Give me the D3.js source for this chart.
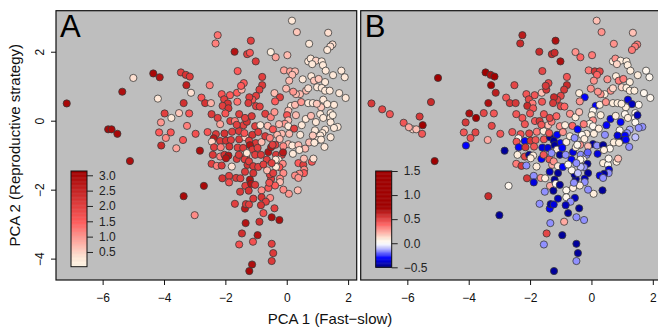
<!DOCTYPE html>
<html>
<head>
<meta charset="utf-8">
<script src="https://cdnjs.cloudflare.com/ajax/libs/d3/7.8.5/d3.min.js"></script>
<style>
  html, body { margin: 0; padding: 0; background: #fff; }
  svg { display: block; font-family: "Liberation Sans", Arial, Helvetica, sans-serif; }
</style>
</head>
<body>
<svg id="chart" width="658" height="329"></svg>
<script>
// PCA scores per species (shared by both panels)
const pc1 = [
  -7.17, -5.82, -5.71, -5.52, -5.36, -5.11, -5.00, -6.82, -6.57, -6.12,
  -5.95, -5.60, -5.50, -5.23, -4.35, -4.14, -3.45, -3.29, -3.16, -3.27,
  -2.51, -3.12, -4.20, -3.36, -3.98, -3.51, -3.76, -3.18, -4.10, -3.25,
  -4.16, -3.78, -3.94, -4.09, -3.60, -3.38, -2.97, -2.83, -2.78, -2.66,
  -2.47, -2.70, -3.36, -3.00, -2.12, -1.85, -1.60, -1.62, -1.47, -1.40,
  -1.49, -2.04, -1.92, -2.09, -1.90, -1.61, -2.25, -2.45, -2.00, -1.55,
  -2.17, -1.84, -1.69, -2.58, -2.31, -2.03, -1.78, -1.56, -1.41, -1.30,
  -2.38, -2.44, -2.17, -1.98, -1.82, -1.55, -1.35, -2.37, -2.15, -1.87,
  -1.60, -2.41, -2.17, -2.03, -1.90, -1.98, -1.63, -1.33, -2.45, -2.28,
  -2.12, -1.79, -1.37, -1.28, -2.10, -1.88, -1.88, -1.65, -1.51, -1.36,
  -1.52, -1.35, -1.24, -1.69, -1.36, -1.33, -1.23, -1.34, -1.46, -1.55,
  -1.10, -1.13, -1.22, 0.17, 0.33, 1.35, 0.73, 1.49, 1.42, 1.32,
  -1.17, -1.29, -1.20, -1.01, -0.52, -0.36, 0.02, 0.70, 0.78, 0.95,
  1.14, 1.18, 1.27, 0.83, -0.09, 0.11, 0.27, 0.18, 0.08, -0.80,
  0.52, 0.80, 0.89, 1.04, 1.25, 1.51, 1.78, 1.89, 1.71, 1.92,
  1.54, 0.99, 1.14, 1.25, 1.40, 1.19, 1.32, 1.12, 0.63, 0.70,
  0.43, 0.30, 0.21, -0.02, -0.40, -0.22, -0.38, -0.80, -0.89, -1.00,
  -1.12, -1.22, -1.25, -1.00, -0.88, 0.14, 0.27, 0.47, 0.70, 0.85,
  0.98, 0.05, 0.01, 0.05, -0.06, 0.05, 0.30, 0.49, 0.62, 0.79,
  0.95, 1.09, 1.19, 1.43, 1.42, 1.43, 1.50, 1.66, 1.54, 1.25,
  1.16, 1.09, 1.01, 1.12, 1.43, 1.23, 0.92, 0.85, 0.73, 0.90,
  0.60, 0.44, 0.24, 0.08, 0.05, 0.18, 0.38, 0.20, 0.38, 0.54,
  0.57, 0.56, 0.41, 0.27, 0.38, 0.36, 0.56, -0.16, -0.31, -0.23,
  -0.11, -0.37, -0.35, -0.16, -0.12, -0.27, -0.13, -0.24, -0.35, -0.11,
  -0.22, 0.07, -0.22, -0.38, -0.11, -0.51, -0.55, -0.64, -0.44, -0.60,
  -0.82, -0.54, -1.09, 0.82, 0.87, 0.41, -1.36, -1.14, -1.63, -1.03,
  -0.86, -1.38, -1.12, -0.93, -1.23, -1.01, -0.82, -1.42, -1.20, -1.12,
  -0.95, -1.30, -1.56, -1.03, -0.84, -0.60, -0.51, -0.46, -0.65, -0.36,
  -0.49, -1.23, -1.09, -0.93, -0.76, -1.09, -1.20, -1.16, -1.03, -0.82,
  -0.68, -0.84, -0.76, -0.40, -0.49, -0.24, -0.89, -0.95, -0.49, -0.44,
  -0.49, -0.57, -2.25, -2.32, -1.70, -0.70, -0.52, -0.40, -0.62, -0.45,
  -0.25, -0.70, -0.55
];
const pc2 = [
  0.50, -0.25, -0.25, -0.38, 0.84, -1.17, 1.24, 0.33, 0.19, -0.06,
  -0.19, 0.12, -0.13, 0.54, 1.37, 1.26, 1.40, 1.33, 1.28, 1.03,
  1.03, 0.81, 0.64, 0.51, 0.21, 0.22, 0.08, 0.21, -0.05, -0.15,
  -0.34, -0.34, -0.50, -0.72, -0.80, -0.56, -0.38, -0.87, 0.67, 0.51,
  0.51, -1.89, -2.19, -2.74, 0.77, 0.74, 1.44, 0.81, 0.90, 1.09,
  1.01, 0.62, 0.50, 0.43, 0.36, 0.55, 0.08, 0.19, 0.21, 0.19,
  -0.10, -0.01, -0.01, -0.33, -0.39, -0.37, -0.32, -0.30, -0.13, -0.03,
  -0.51, -0.61, -0.59, -0.58, -0.56, -0.54, -0.48, -0.77, -0.77, -0.75,
  -0.78, -0.99, -1.04, -0.99, -1.01, -1.09, -1.11, -1.04, -1.25, -1.31,
  -1.30, -1.33, -1.12, -1.28, -1.67, -1.60, -1.79, -1.66, -1.67, -1.48,
  -2.06, -1.89, -2.03, -2.41, -2.55, -2.42, -2.43, -2.97, -3.27, -3.59,
  -3.51, -4.17, -4.36, 2.90, 2.57, 2.55, 2.23, 2.21, 2.15, 2.05,
  2.32, 1.93, 1.97, 1.72, 1.99, 1.84, 1.90, 1.72, 1.80, 1.74,
  1.72, 1.61, 1.45, 1.64, 1.46, 1.43, 1.43, 1.33, 1.16, 1.27,
  1.20, 1.29, 1.16, 1.21, 1.12, 1.32, 1.45, 1.26, 0.80, 0.66,
  0.46, 0.97, 0.95, 0.87, 0.87, 0.61, 0.48, 0.39, 0.87, 0.94,
  0.77, 0.77, 0.84, 0.93, 0.80, 0.68, 0.56, 1.03, 0.90, 0.72,
  0.61, 0.68, 0.51, 0.42, 0.41, 0.43, 0.46, 0.54, 0.51, 0.51,
  0.49, 0.29, 0.16, 0.01, -0.09, -0.16, 0.16, -0.13, 0.05, 0.14,
  -0.04, 0.19, 0.08, 0.22, 0.08, -0.05, 0.16, -0.18, -0.21, -0.26,
  -0.36, -0.43, -0.56, -0.55, -0.48, -0.76, -0.28, -0.43, -0.63, -0.64,
  -0.81, -0.41, -0.23, -0.38, -0.68, -0.72, -0.71, -0.96, -1.23, -1.28,
  -1.42, -1.52, -1.54, -1.59, -1.66, -2.02, -1.10, -0.38, -0.41, -0.53,
  -0.74, -0.70, -0.99, -0.99, -0.92, -1.13, -1.25, -1.35, -1.34, -1.52,
  -1.68, -2.12, -1.78, -1.88, -2.00, -1.69, -1.56, -1.44, -1.52, -1.95,
  -2.02, -2.24, -2.26, -1.19, -1.10, -0.85, 0.08, 0.13, -0.12, -0.16,
  -0.13, -0.36, -0.41, -0.33, -0.58, -0.65, -0.62, -0.79, -0.71, -0.84,
  -0.79, -0.94, -0.99, -0.99, -0.99, -0.91, -0.77, -0.70, -1.13, -1.13,
  -1.23, -1.18, -1.32, -1.34, -1.27, -1.52, -1.71, -1.83, -1.86, -2.22,
  -2.35, -2.45, -2.68, -2.54, -2.80, -2.88, -2.93, -3.32, -3.57, -3.84,
  -4.07, -1.80, 2.48, 2.24, 2.00, 0.20, 0.10, 0.25, -0.15, -0.25,
  -0.10, -0.45, -0.50
];
// panel A colour variable (null = species not shown)
const traitA = [
  3.0, 3.0, 3.0, 3.0, 2.9, 2.9, 0.4, null, null, null,
  null, null, null, null, 3.0, 2.8, 2.0, 2.2, 2.1, 2.6,
  1.2, 0.4, 0.3, 2.3, 2.0, 0.6, 0.3, 1.6, 1.0, 1.2,
  1.5, 1.6, 1.1, 2.4, 0.9, 1.6, 1.7, 2.9, 1.6, 2.2,
  0.8, 3.0, 3.0, 1.1, 1.6, 1.5, 1.5, 1.5, 0.8, 1.5,
  1.5, 2.0, 2.2, 2.0, 2.2, 1.3, 2.0, 2.1, 1.6, 2.0,
  0.9, 2.0, 1.2, 1.6, 2.1, 2.2, 2.0, 2.1, 2.0, 2.2,
  2.7, 0.5, 2.1, 2.2, 2.0, 2.1, 0.5, 2.0, 1.2, 2.2,
  2.0, 2.1, 1.2, 2.2, 2.8, 2.8, 2.1, 2.0, 2.0, 1.2,
  2.1, 0.4, 2.0, 2.2, 2.2, 2.0, 1.7, 2.1, 2.0, 2.1,
  2.1, 2.0, 2.2, 2.0, 2.7, 2.1, 2.0, 2.8, 2.3, 1.7,
  1.7, 2.9, 3.0, 0.3, 0.6, 0.4, 0.3, 0.4, 0.4, 0.3,
  2.0, 2.0, 1.6, 2.1, 0.2, 0.9, 0.7, 0.3, 0.3, 0.5,
  0.3, 0.3, 0.3, 0.3, 0.9, 0.9, 0.7, 0.7, 0.7, 2.0,
  0.3, 0.3, 0.6, 0.6, 0.3, 0.3, 0.3, 0.3, 0.3, 0.3,
  0.3, 0.3, 0.3, 0.3, 0.3, 0.3, 0.3, 0.6, 0.7, 0.4,
  0.7, 0.7, 1.0, 0.7, 0.7, 2.0, 1.5, 2.1, 2.0, 2.0,
  1.6, 2.0, 2.1, 2.0, 2.0, 0.3, 0.7, 1.0, 0.3, 0.3,
  0.6, 0.7, 1.6, 0.7, 1.0, 0.3, 0.7, 0.3, 0.3, 0.7,
  0.3, 0.3, 0.3, 0.3, 0.3, 0.3, 0.2, 0.3, 0.3, 0.3,
  0.3, 0.3, 0.3, 0.3, 0.3, 0.3, 0.3, 0.6, 0.7, 0.3,
  0.7, 0.3, 2.0, 0.7, 0.7, 0.3, 0.7, 0.3, 1.5, 2.0,
  1.1, 1.5, 1.1, 1.1, 1.0, 0.7, 0.7, 0.7, 0.7, 0.7,
  1.1, 2.0, 2.1, 2.0, 2.7, 0.3, 1.1, 1.6, 0.3, 1.1,
  1.1, 1.0, 0.7, 1.5, 1.1, 2.0, 2.0, 0.7, 2.0, 1.6,
  1.1, 1.1, 2.1, 1.6, 0.4, 0.3, 2.0, 2.1, 2.0, 2.0,
  0.3, 1.6, 2.2, 2.0, 2.0, 2.1, 0.7, 2.1, 2.8, 2.1,
  2.0, 0.3, 2.1, 2.0, 2.1, 2.8, 2.8, 2.0, 2.0, 0.3,
  2.0, 2.0, 2.1, 2.0, 2.0, 2.2, 2.8, 2.8, 2.1, 2.2,
  2.0, 2.2, 1.7, 2.0, 2.9, 2.9, 2.3, 2.8, 2.0, 2.1,
  2.1, 1.7, 1.3, 1.2, 2.8, 2.0, 1.2, 1.0, 0.7, 1.6,
  0.7, 2.1, 1.2
];
// panel B colour variable
const traitB = [
  0.55, 0.15, 0.2, 0.45, null, 0.75, 1.1, 0.5, 0.45, 0.45,
  0.25, 0.55, 0.85, 0.6, null, null, 0.8, 0.7, 0.75, 0.8,
  0.5, 0.65, null, 0.7, 0.7, 0.5, 1.1, 0.45, 0.55, 0.5,
  0.45, 0.5, 0.45, -0.3, null, 0.25, 0.45, -0.45, 0.45, 0.55,
  0.55, 0.05, 0.6, -0.45, 0.45, 0.45, 0.5, 0.2, 0.55, 0.5,
  0.55, 0.5, 0.35, 0.6, 0.45, 0.45, 0.45, 0.45, 0.45, 0.45,
  0.45, 0.45, 0.55, 0.45, 0.45, 0.5, 0.35, 0.1, 0.2, 0.35,
  0.05, 0.45, -0.3, 0.55, 0.45, 0.45, -0.45, -0.3, 0.55, 0.45,
  -0.35, 0.1, 0.5, -0.45, 0.1, 0.1, -0.3, 0.1, 0.35, 0.55,
  -0.15, 0.1, 0.45, 0.25, 0.55, -0.15, -0.35, 0.3, 0.1, -0.4,
  -0.15, 0.25, -0.45, -0.15, -0.3, -0.45, -0.35, -0.15, 0.5, -0.15,
  null, null, -0.45, 0.2, 0.3, 0.2, 0.3, 0.35, 0.35, 0.35,
  0.7, 0.6, 0.6, 0.7, 0.3, 0.4, 0.35, 0.1, 0.3, 0.1,
  0.1, 0.1, 0.1, 0.15, 0.35, 0.55, 0.5, 0.4, 0.3, 0.45,
  0.3, 0.1, 0.35, 0.35, 0.1, 0.1, 0.05, 0.05, 0.05, 0.05,
  0.05, 0.15, 0.1, 0.1, 0.1, -0.35, -0.4, 0.1, 0.3, 0.15,
  0.1, 0.3, 0.3, 0.3, 0.1, -0.3, 0.3, 0.6, 0.55, 0.5,
  0.5, 0.6, 0.55, 0.5, 0.4, -0.3, 0.1, 0.3, 0.1, 0.1,
  0.1, 0.05, 0.1, 0.3, 0.1, 0.05, 0.1, -0.3, -0.35, 0.1,
  -0.3, 0.05, 0.1, 0.05, 0.05, 0.05, -0.4, -0.15, -0.15, -0.12,
  -0.15, -0.3, -0.45, -0.3, -0.1, -0.15, 0.05, -0.35, 0.1, 0.1,
  0.05, -0.15, 0.1, 0.1, -0.45, -0.15, -0.45, -0.35, 0.1, 0.05,
  -0.35, -0.15, -0.45, -0.35, -0.15, -0.45, 0.05, 0.1, 0.05, 0.1,
  0.2, 0.3, -0.15, -0.15, -0.2, 0.05, -0.45, -0.15, -0.1, -0.45,
  -0.4, 0.1, -0.15, 0.1, -0.15, -0.45, -0.45, 0.05, -0.1, 0.1,
  0.05, -0.4, -0.4, 0.1, 0.2, 0.1, 0.5, 0.4, 0.45, 0.3,
  0.1, 0.45, -0.3, 0.3, -0.45, -0.3, 0.1, -0.35, -0.45, 0.1,
  -0.3, -0.15, 0.45, -0.45, -0.15, -0.35, 0.1, 0.05, -0.3, 0.05,
  -0.15, 0.3, 0.1, -0.3, 0.05, -0.45, -0.45, 0.05, -0.45, 0.05,
  -0.15, -0.4, -0.45, -0.45, -0.15, -0.15, 0.25, -0.45, -0.45, -0.45,
  -0.15, -0.15, 0.65, 0.6, 0.6, 0.3, 0.1, 0.2, 0.4, -0.3,
  0.35, 0.1, -0.15
];

const xTicks = [-6, -4, -2, 0, 2];
const yTicks = [-4, -2, 0, 2];
const legendTicksA = [0.5, 1.0, 1.5, 2.0, 2.5, 3.0];
const legendTicksB = [-0.5, 0.0, 0.5, 1.0, 1.5];

const svg = d3.select("#chart");
const plotTop = 10.7, plotBottom = 280;
const panels = [
  { key: "A", x0: 56, x1: 356.7, values: traitA },
  { key: "B", x0: 360.7, x1: 661.4, values: traitB }
];

const colA = d3.scaleLinear()
  .domain([0, 0.35, 1.5, 3.15])
  .range(["#fff8e8", "#ffe6d6", "#ff5b5b", "#a00000"])
  .clamp(true);
const colB = d3.scaleLinear()
  .domain([-0.5, -0.3, -0.1, 0, 0.1, 0.4, 0.75, 1.5])
  .range(["#00007a", "#0000ff", "#c0c0ff", "#ffffff", "#ffeedd", "#ff6464", "#a00000", "#a00000"])
  .clamp(true);
const legendRange = {
  A: { scale: colA, domain: [0.02, 3.14], ticks: legendTicksA, x: 71, y0: 171, y1: 266.7 },
  B: { scale: colB, domain: [-0.5, 1.5], ticks: legendTicksB, x: 375.7, y0: 171, y1: 267.3 }
};

const minus = s => String(s).replace("-", "\u2212");
const n = Math.min(pc1.length, pc2.length, traitA.length, traitB.length);

const y = d3.scaleLinear().domain([-4.62, 3.19]).range([plotBottom, plotTop]);

panels.forEach(p => {
  const x = d3.scaleLinear().domain([-7.52, 2.28]).range([p.x0, p.x1]);
  const g = svg.append("g");

  g.append("rect")
    .attr("x", p.x0).attr("y", plotTop)
    .attr("width", p.x1 - p.x0).attr("height", plotBottom - plotTop)
    .attr("fill", "#bebebe");

  const color = p.key === "A" ? colA : colB;
  const pts = d3.range(n).filter(i => p.values[i] !== null);
  g.append("g").selectAll("circle")
    .data(pts)
    .join("circle")
    .attr("cx", i => x(pc1[i]))
    .attr("cy", i => y(pc2[i]))
    .attr("r", 3.6)
    .attr("fill", i => color(p.values[i]))
    .attr("stroke", "#3a3a3a")
    .attr("stroke-width", 0.8);

  g.append("rect")
    .attr("x", p.x0).attr("y", plotTop)
    .attr("width", p.x1 - p.x0).attr("height", plotBottom - plotTop)
    .attr("fill", "none").attr("stroke", "#111").attr("stroke-width", 1.2);

  // x axis
  const xa = g.append("g")
    .attr("transform", `translate(0,${plotBottom})`)
    .call(d3.axisBottom(x).tickValues(xTicks).tickSize(5).tickPadding(8).tickFormat(minus));
  xa.select(".domain").remove();
  xa.selectAll("text").attr("font-size", 12).attr("fill", "#111").attr("font-family", null);
  xa.selectAll("line").attr("stroke", "#111");

  // panel letter
  g.append("text")
    .attr("x", p.x0 + 4).attr("y", 37)
    .attr("font-size", 31)
    .attr("fill", "#000")
    .text(p.key);

  // colour bar legend
  const L = legendRange[p.key];
  const ly = d3.scaleLinear().domain(L.domain).range([L.y1, L.y0]);
  const steps = d3.range(0, 120);
  const stepH = (L.y1 - L.y0) / steps.length;
  g.append("g").selectAll("rect")
    .data(steps)
    .join("rect")
    .attr("x", L.x).attr("width", 16)
    .attr("y", s => L.y1 - (s + 1) * stepH)
    .attr("height", stepH + 0.4)
    .attr("fill", s => L.scale(ly.invert(L.y1 - (s + 0.5) * stepH)));
  g.append("rect")
    .attr("x", L.x).attr("y", L.y0)
    .attr("width", 16).attr("height", L.y1 - L.y0)
    .attr("fill", "none").attr("stroke", "#111").attr("stroke-width", 1);
  const la = g.append("g")
    .attr("transform", `translate(${L.x + 16},0)`)
    .call(d3.axisRight(ly).tickValues(L.ticks).tickSize(6).tickPadding(6).tickFormat(v => minus(d3.format(".1f")(v))));
  la.select(".domain").remove();
  la.selectAll("text").attr("font-size", 12).attr("fill", "#222").attr("font-family", null);
  la.selectAll("line").attr("stroke", "#222");
});

// y axis on panel A
const ya = svg.append("g")
  .attr("transform", `translate(${panels[0].x0},0)`)
  .call(d3.axisLeft(y).tickValues(yTicks).tickSize(5).tickFormat(minus));
ya.select(".domain").remove();
ya.selectAll("line").attr("stroke", "#111");
ya.selectAll("text")
  .attr("x", null).attr("dy", null)
  .attr("font-size", 12).attr("fill", "#111").attr("font-family", null)
  .attr("text-anchor", "middle")
  .attr("transform", "translate(-12.5,0) rotate(-90)");

svg.append("text")
  .attr("transform", "translate(19.5,145.3) rotate(-90)")
  .attr("text-anchor", "middle")
  .attr("font-size", 15).attr("fill", "#111")
  .text("PCA 2 (Reproductive strategy)");

svg.append("text")
  .attr("x", 330).attr("y", 323.5)
  .attr("text-anchor", "middle")
  .attr("font-size", 15).attr("fill", "#111")
  .text("PCA 1 (Fast\u2212slow)");
</script>
</body>
</html>
